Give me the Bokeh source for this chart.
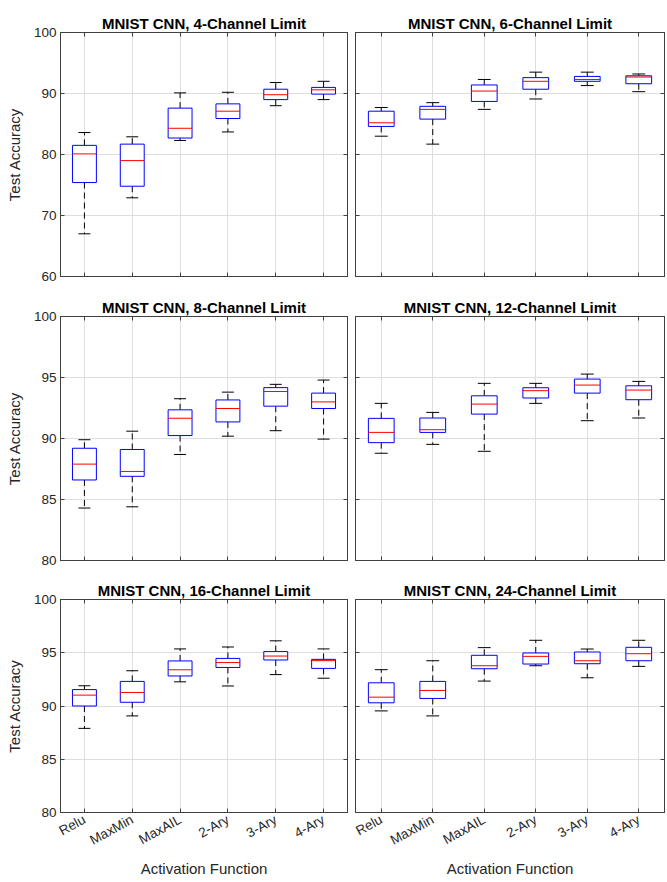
import numpy as np
from bokeh.plotting import figure
from bokeh.models import Range1d, FixedTicker, LinearAxis, ColumnDataSource
from bokeh.layouts import row, column
from bokeh.embed import file_html
from bokeh.resources import INLINE

categories = ["Relu", "MaxMin", "MaxAIL", "2-Ary", "3-Ary", "4-Ary"]

# per panel: upper whisker, q3, median, q1, lower whisker
ch4_hi = [83.6, 82.9, 90.1, 90.2, 91.8, 92.0]
ch4_q3 = [81.5, 81.7, 87.6, 88.3, 90.7, 91.0]
ch4_med = [80.1, 79.0, 84.3, 87.1, 89.8, 90.6]
ch4_q1 = [75.4, 74.8, 82.7, 85.9, 89.0, 89.9]
ch4_lo = [67.0, 72.9, 82.3, 83.7, 88.0, 89.0]

ch6_hi = [87.7, 88.5, 92.3, 93.5, 93.5, 93.2]
ch6_q3 = [87.1, 87.9, 91.4, 92.6, 92.8, 92.9]
ch6_med = [85.2, 87.4, 90.4, 92.0, 92.3, 92.7]
ch6_q1 = [84.6, 85.8, 88.7, 90.7, 92.0, 91.6]
ch6_lo = [83.0, 81.7, 87.4, 89.1, 91.3, 90.3]

ch8_hi = [89.9, 90.6, 93.26, 93.8, 94.44, 94.79]
ch8_q3 = [89.2, 89.1, 92.35, 93.16, 94.17, 93.72]
ch8_med = [87.9, 87.3, 91.66, 92.46, 93.85, 93.0]
ch8_q1 = [86.6, 86.9, 90.24, 91.36, 92.65, 92.46]
ch8_lo = [84.3, 84.4, 88.69, 90.19, 90.64, 89.95]

ch12_hi = [92.88, 92.14, 94.52, 94.52, 95.28, 94.68]
ch12_q3 = [91.65, 91.68, 93.5, 94.16, 94.87, 94.32]
ch12_med = [90.5, 90.72, 92.82, 93.92, 94.38, 93.97]
ch12_q1 = [89.66, 90.5, 92.0, 93.32, 93.72, 93.18]
ch12_lo = [88.79, 89.52, 88.95, 92.88, 91.46, 91.68]

ch16_hi = [91.9, 93.31, 95.36, 95.54, 96.12, 95.36]
ch16_q3 = [91.54, 92.31, 94.23, 94.47, 95.11, 94.38]
ch16_med = [91.02, 91.27, 93.4, 94.08, 94.69, 94.26]
ch16_q1 = [90.0, 90.35, 92.82, 93.62, 94.32, 93.53]
ch16_lo = [87.9, 89.07, 92.27, 91.88, 92.95, 92.61]

ch24_hi = [93.41, 94.25, 95.48, 96.17, 95.35, 96.17]
ch24_q3 = [92.18, 92.31, 94.76, 94.98, 95.07, 95.51]
ch24_med = [90.83, 91.46, 93.78, 94.66, 94.25, 94.91]
ch24_q1 = [90.3, 90.71, 93.5, 93.94, 93.97, 94.25]
ch24_lo = [89.54, 89.07, 92.34, 93.78, 92.65, 93.72]

titles = ["MNIST CNN, 4-Channel Limit", "MNIST CNN, 6-Channel Limit",
          "MNIST CNN, 8-Channel Limit", "MNIST CNN, 12-Channel Limit",
          "MNIST CNN, 16-Channel Limit", "MNIST CNN, 24-Channel Limit"]
yticks_top = [60, 70, 80, 90, 100]
yticks_rest = [80, 85, 90, 95, 100]

FONT = "Liberation Sans"
AXC = "#404040"
TXT = "#262626"


def style_axis(ax, show_labels):
    ax.major_tick_in = 4
    ax.major_tick_out = 0
    ax.minor_tick_in = 0
    ax.minor_tick_out = 0
    ax.minor_tick_line_color = None
    ax.axis_line_color = AXC
    ax.major_tick_line_color = AXC
    ax.major_label_text_font = FONT
    ax.axis_label_text_font = FONT
    ax.axis_label_text_font_style = "normal"
    ax.axis_label_text_color = TXT
    ax.axis_label_text_font_size = "15px"
    if show_labels:
        ax.major_label_text_color = TXT
        ax.major_label_text_font_size = "13.5px"
        ax.major_label_standoff = 4
    else:
        ax.major_label_text_color = None
        ax.major_label_text_font_size = "1px"
        ax.major_label_standoff = 0
        ax.axis_label_standoff = 0


def panel(title, hi, q3, med, q1, lo, ylim, yticks, left, bottom,
          width, height, bl, br, bt, bb):
    p = figure(width=width, height=height, output_backend="svg",
               toolbar_location=None, x_range=Range1d(0.5, 6.5),
               y_range=Range1d(*ylim), min_border_left=bl, min_border_right=br,
               min_border_top=bt, min_border_bottom=bb)
    p.title.text = title
    p.title.align = "center"
    p.title.text_font = FONT
    p.title.text_font_size = "15px"
    p.title.text_font_style = "bold"
    p.title.text_color = "#000000"
    p.title.standoff = 2
    p.outline_line_color = AXC
    p.outline_line_width = 1
    p.background_fill_color = "white"
    p.border_fill_color = "white"
    x = np.arange(1, len(categories) + 1)
    src = ColumnDataSource(dict(x=x, xl=x - 0.25, xr=x + 0.25, cl=x - 0.125,
                                cr=x + 0.125, hi=hi, q3=q3, med=med, q1=q1, lo=lo))
    # whiskers
    p.segment(x0="x", y0="q3", x1="x", y1="hi", source=src, line_color="black",
              line_dash="6 4", line_width=1)
    p.segment(x0="x", y0="q1", x1="x", y1="lo", source=src, line_color="black",
              line_dash="6 4", line_width=1)
    p.segment(x0="cl", y0="hi", x1="cr", y1="hi", source=src, line_color="black", line_width=1)
    p.segment(x0="cl", y0="lo", x1="cr", y1="lo", source=src, line_color="black", line_width=1)
    p.quad(left="xl", right="xr", bottom="q1", top="q3", source=src,
           fill_color="white", line_color="#0000ff", line_width=1)
    p.segment(x0="xl", y0="med", x1="xr", y1="med", source=src,
              line_color="#ff0000", line_width=1)

    xt = list(range(1, len(categories) + 1))
    style_axis(p.xaxis[0], bottom)
    style_axis(p.yaxis[0], left)
    p.xaxis.ticker = FixedTicker(ticks=xt)
    p.xaxis.major_label_overrides = {i + 1: c for i, c in enumerate(categories)}
    p.yaxis.ticker = FixedTicker(ticks=yticks)
    p.xgrid.ticker = FixedTicker(ticks=xt)
    p.ygrid.ticker = FixedTicker(ticks=yticks)
    p.grid.grid_line_color = "#dedede"
    p.grid.grid_line_width = 1
    if bottom:
        p.xaxis.major_label_orientation = 0.5
        p.xaxis.major_label_standoff = 6
        p.xaxis.axis_label = "Activation Function"
        p.xaxis.axis_label_standoff = 3
    if left:
        p.yaxis.axis_label = "Test Accuracy"
        p.yaxis.axis_label_standoff = 8
    # mirrored ticks on right and top (box on)
    ra = LinearAxis(ticker=FixedTicker(ticks=yticks))
    style_axis(ra, False)
    p.add_layout(ra, "right")
    ta = LinearAxis(ticker=FixedTicker(ticks=xt))
    style_axis(ta, False)
    p.add_layout(ta, "above")
    return p


LW, RW = 351, 316
p1 = panel(titles[0], ch4_hi, ch4_q3, ch4_med, ch4_q1, ch4_lo, (60, 100), yticks_top,
           True, False, LW, 289, 60, 4, 31, 10)
p2 = panel(titles[1], ch6_hi, ch6_q3, ch6_med, ch6_q1, ch6_lo, (60, 100), yticks_top,
           False, False, RW, 289, 4, 3, 32, 13)
p3 = panel(titles[2], ch8_hi, ch8_q3, ch8_med, ch8_q1, ch8_lo, (80, 100), yticks_rest,
           True, False, LW, 282, 60, 4, 27, 7)
p4 = panel(titles[3], ch12_hi, ch12_q3, ch12_med, ch12_q1, ch12_lo, (80, 100), yticks_rest,
           False, False, RW, 282, 4, 3, 27, 11)
p5 = panel(titles[4], ch16_hi, ch16_q3, ch16_med, ch16_q1, ch16_lo, (80, 100), yticks_rest,
           True, True, LW, 311, 60, 4, 27, 65)
p6 = panel(titles[5], ch24_hi, ch24_q3, ch24_med, ch24_q1, ch24_lo, (80, 100), yticks_rest,
           False, True, RW, 311, 4, 3, 28, 70)

layout = column(row(p1, p2, spacing=0), row(p3, p4, spacing=0),
                row(p5, p6, spacing=0), spacing=0)

open("out.html", "w").write(file_html(layout, INLINE))
